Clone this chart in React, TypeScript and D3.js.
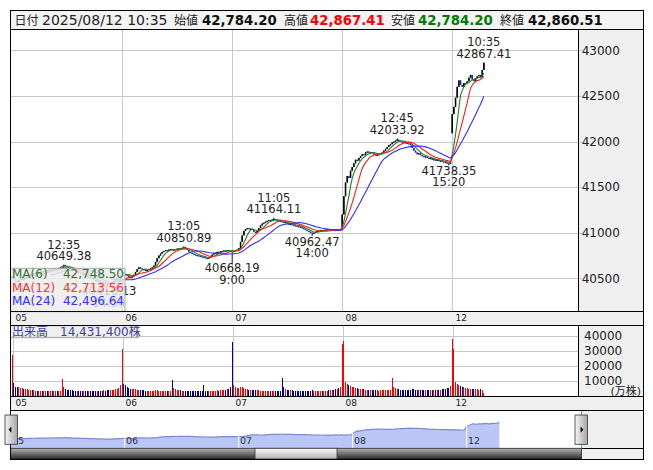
import React from 'react';
import * as d3 from 'd3';

// ---------- data ----------
const DAYS = ['05', '06', '07', '08', '12'];
const DAY_OPEN = [40500, 40560, 40800, 41050, 42090];

const CLOSE_05 = [
  40520, 40490, 40470, 40460, 40480, 40500, 40510, 40495, 40505, 40520,
  40530, 40545, 40540, 40555, 40560, 40550, 40565, 40575, 40570, 40580,
  40590, 40585, 40595, 40600, 40590, 40605, 40610, 40600, 40615, 40620,
  40630, 40645, 40635, 40620, 40610, 40600, 40595, 40585, 40570, 40575,
  40560, 40550, 40540, 40545, 40530, 40515, 40520, 40505, 40490, 40480,
  40470, 40475, 40460, 40450, 40440, 40445, 40432, 40428, 40424, 40440,
  40455, 40470, 40490, 40505, 40520, 40535,
];
const CLOSE_06 = [
  40570, 40550, 40540, 40530, 40515, 40505, 40520, 40540, 40570, 40600,
  40620, 40610, 40600, 40595, 40580, 40590, 40600, 40610, 40620, 40640,
  40680, 40720, 40750, 40770, 40790, 40800, 40810, 40805, 40815, 40820,
  40810, 40815, 40820, 40825, 40830, 40828, 40835, 40840, 40830, 40810,
  40790, 40780, 40770, 40760, 40755, 40750, 40745, 40740, 40735, 40730,
  40722, 40718, 40728, 40745, 40760, 40775, 40780, 40790, 40785, 40795,
  40800, 40805, 40800, 40810, 40805, 40800,
];
const CLOSE_07 = [
  40790, 40800, 40810, 40815, 40830, 40900, 40970, 41020, 41040, 41050,
  41040, 41045, 41030, 41010, 41000, 41020, 41050, 41080, 41100, 41110,
  41120, 41130, 41140, 41135, 41145, 41150, 41140, 41135, 41130, 41125,
  41120, 41110, 41115, 41100, 41090, 41095, 41085, 41080, 41075, 41070,
  41065, 41060, 41050, 41040, 41030, 41020, 41010, 41000, 40990, 41000,
  41010, 41020, 41025, 41030, 41020, 41030, 41035, 41040, 41030, 41035,
  41040, 41030, 41025, 41035, 41030, 41040,
];
const CLOSE_08 = [
  41200, 41400, 41550, 41620, 41600, 41680, 41720, 41760, 41800, 41790,
  41820, 41840, 41860, 41850, 41880, 41890, 41880, 41885, 41870, 41860,
  41850, 41855, 41860, 41870, 41880, 41900, 41920, 41940, 41960, 41970,
  41990, 42000, 42010, 42020, 42010, 42000, 41995, 41990, 41985, 41980,
  41975, 41960, 41930, 41900, 41880, 41860, 41870, 41850, 41840, 41830,
  41835, 41820, 41810, 41820, 41800, 41805, 41790, 41800, 41785, 41790,
  41780, 41775, 41770, 41760, 41755, 41780,
];
const CLOSE_12 = [
  42300, 42380, 42480, 42600, 42670, 42620, 42600, 42640, 42640, 42660,
  42700, 42730, 42680, 42662, 42695, 42715, 42730, 42706, 42784.2, 42860.51,
];

// volume in 万株
const VOL_05 = [
  27500, 8200, 5600, 5400, 5500, 5200, 4800, 4600, 4300, 4100, 3800, 3700, 3500, 3400, 3300,
  3200, 3100, 3000, 3200, 2900, 3000, 2800, 2900, 3100, 2800, 2900, 3000, 2800, 3000, 3300,
  11200, 5900, 4500, 4000, 3800, 3600, 3400, 3300, 3200, 3100, 3000, 3200, 2900, 3100, 2800,
  3000, 2900, 3100, 3000, 3200, 2900, 3000, 3100, 3300, 3200, 3400, 3300, 3500, 3600, 3400,
  3700, 3900, 4100, 4300, 4800, 6800,
];
const VOL_06 = [
  31000, 7600, 6800, 5600, 5000, 4700, 4400, 4100, 4200, 3900, 3700, 3600, 3500, 3400, 3300,
  3200, 3300, 3100, 3000, 3100, 3400, 3600, 3200, 3000, 2900, 3000, 2800, 2900, 3000, 3200,
  10500, 5200, 4200, 3900, 3600, 3500, 3300, 3200, 3100, 3000, 3200, 2900, 3000, 2800, 3000,
  2900, 3100, 3000, 3200, 7000, 3300, 3000, 3100, 3200, 3000, 3300, 3100, 3400, 3300, 3500,
  3600, 3800, 4000, 4400, 4700, 5600,
];
const VOL_07 = [
  36000, 7200, 6000, 5200, 4800, 5600, 5400, 4800, 4500, 4300, 4000, 3800, 3900, 3700, 3600,
  3400, 3500, 3300, 3200, 3300, 3100, 3000, 3200, 3000, 2900, 3300, 3100, 3000, 2900, 3100,
  12000, 5500, 4400, 4000, 3800, 3600, 3400, 3300, 3200, 3000, 3100, 2900, 3000, 3200, 3300,
  3100, 3000, 2900, 3400, 3200, 3000, 3100, 2900, 3000, 3200, 3100, 3300, 3200, 3400, 3500,
  3700, 3900, 4200, 4500, 4900, 5800,
];
const VOL_08 = [
  34500, 36800, 8800, 7500, 6800, 6200, 5800, 5500, 5200, 4800, 4600, 4400, 4500, 4200, 4000,
  3900, 3800, 3700, 3600, 3500, 3600, 3400, 3300, 3500, 3600, 3700, 3800, 3600, 3500, 3700,
  11500, 5800, 4800, 4500, 4200, 4000, 3900, 3800, 3700, 3600, 3800, 4000, 4200, 4100, 3900,
  3800, 3700, 3600, 3700, 3500, 3600, 3400, 3500, 3600, 3400, 3500, 3700, 3600, 3800, 3900,
  4100, 4300, 4500, 4800, 5200, 6500,
];
const VOL_12 = [
  37800, 31500, 9200, 8000, 7000, 6400, 5800, 5500, 5200, 5000, 4700, 4500, 4300, 4200, 4400,
  4100, 4000, 4200, 3800, 1443,
];

const EXTREMES = [
  { day: 0, idx: 31, kind: 'high', value: 40649.38 },
  { day: 0, idx: 58, kind: 'low', value: 40418.13 },
  { day: 1, idx: 37, kind: 'high', value: 40850.89 },
  { day: 2, idx: 0, kind: 'low', value: 40668.19 },
  { day: 2, idx: 25, kind: 'high', value: 41164.11 },
  { day: 2, idx: 48, kind: 'low', value: 40962.47 },
  { day: 3, idx: 33, kind: 'high', value: 42033.92 },
  { day: 3, idx: 64, kind: 'low', value: 41738.35 },
  { day: 4, idx: 19, kind: 'high', value: 42867.41 },
];

const PRICE_TICKS = [40500, 41000, 41500, 42000, 42500, 43000];
const VOL_TICKS = [10000, 20000, 30000, 40000];
const MA_PERIODS = [6, 12, 24];
const MA_NAMES = ['MA(6)', 'MA(12)', 'MA(24)'];
const MA_LAST = ['42,748.50', '42,713.56', '42,496.64'];
const MA_COLORS = ['#1a861a', '#ff1a1a', '#2d2dff'];
const MA_TEXT_COLORS = ['#2f6f2f', '#ff3030', '#3030ff'];

const HEADER_LABELS = ['日付', '始値', '高値', '安値', '終値'];
const HEADER_VALUES = ['2025/08/12 10:35', '42,784.20', '42,867.41', '42,784.20', '42,860.51'];
const HEADER_VALUE_COLORS = ['#222', '#111', '#ff0000', '#007a00', '#111'];
const VOLUME_TITLE = '出来高　14,431,400株';
const VOLUME_UNIT = '(万株)';

// ---------- layout constants ----------
const FONT = "'DejaVu Sans', Verdana, 'Noto Sans CJK JP', sans-serif";
const L = 10.5, R = 643, PR = 578.5;
const TOP = 10.5, HB = 29.3, MB = 311.7, S1 = 325.7, VB = 396.7, S2 = 410.7, NB = 448.3, BOT = 459;
const NAV_R = 581.6;
const PER_DAY = 66;

function barTime(idx: number) {
  const mins = idx < 30 ? 9 * 60 + idx * 5 : 12 * 60 + 30 + (idx - 30) * 5;
  const h = Math.floor(mins / 60);
  const m = mins % 60;
  return `${h}:${m < 10 ? '0' : ''}${m}`;
}

export default function App() {
  const closesByDay = [CLOSE_05, CLOSE_06, CLOSE_07, CLOSE_08, CLOSE_12];
  const volsByDay = [VOL_05, VOL_06, VOL_07, VOL_08, VOL_12];

  const bars: { i: number; o: number; h: number; l: number; c: number; v: number }[] = [];
  closesByDay.forEach((arr, d) =>
    arr.forEach((c, k) => {
      const o = k === 0 ? DAY_OPEN[d] : arr[k - 1];
      let h = Math.max(o, c);
      let l = Math.min(o, c);
      const ex = EXTREMES.find((e) => e.day === d && e.idx === k);
      if (ex) {
        if (ex.kind === 'high') h = ex.value;
        else l = ex.value;
      }
      bars.push({ i: d * PER_DAY + k, o, h, l, c, v: volsByDay[d][k] });
    })
  );

  const x = d3.scaleLinear().domain([0, PER_DAY]).range([12.2, 122.2]);
  const y = d3.scaleLinear().domain([40500, 43000]).range([278.3, 50.3]);
  const vy = d3.scaleLinear().domain([0, 40000]).range([395.5, 336]);
  const nx = d3.scaleLinear().domain([0, PER_DAY]).range([10.5, 124.5]);
  const ny = d3.scaleLinear().domain([40300, 43000]).range([440, 421.5]);

  const closes = bars.map((b) => b.c);
  const maLines = MA_PERIODS.map((n) =>
    closes.map((_, k) => (k < n - 1 ? null : (d3.mean(closes.slice(k - n + 1, k + 1)) as number)))
  );
  const maPath = d3
    .line<number | null>()
    .defined((v) => v != null)
    .x((_, k) => x(k))
    .y((v) => y(v as number));

  const navArea = d3
    .area<number>()
    .x((_, k) => nx(k))
    .y0(NB)
    .y1((v) => ny(v));
  const navLine = d3
    .line<number>()
    .x((_, k) => nx(k))
    .y((v) => ny(v));

  const dayGridX = DAYS.map((_, d) => Math.round(x(d * PER_DAY) - 0.5) + 0.5);
  const headerLabelX = [14.6, 174, 284, 391, 500];
  const headerValueX = [42, 202, 310, 418, 528];

  return (
    <svg
      width={653}
      height={470}
      style={{ position: 'absolute', left: 0, top: 0, display: 'block', background: '#fff' }}
      fontFamily={FONT}
    >
      <defs>
        <clipPath id="mainClip">
          <rect x={L} y={HB} width={PR - L} height={MB - HB} />
        </clipPath>
        <clipPath id="volClip">
          <rect x={L} y={S1} width={PR - L} height={VB - S1} />
        </clipPath>
        <linearGradient id="track" x1="0" y1="0" x2="0" y2="1">
          <stop offset="0" stopColor="#b4b4b4" />
          <stop offset="1" stopColor="#2c2c2c" />
        </linearGradient>
        <linearGradient id="thumb" x1="0" y1="0" x2="0" y2="1">
          <stop offset="0" stopColor="#fbfbfb" />
          <stop offset="1" stopColor="#b0b0b0" />
        </linearGradient>
        <linearGradient id="btn" x1="0" y1="0" x2="1" y2="0">
          <stop offset="0" stopColor="#f6f6f6" />
          <stop offset="1" stopColor="#a4a4a4" />
        </linearGradient>
      </defs>

      {/* backgrounds */}
      <rect x={L} y={TOP} width={R - L} height={BOT - TOP} fill="#efefef" />
      <rect x={L} y={TOP} width={R - L} height={HB - TOP} fill="#f3f3f3" />
      <rect x={L} y={HB} width={PR - L} height={MB - HB} fill="#fff" />
      <rect x={L} y={S1} width={PR - L} height={VB - S1} fill="#fff" />
      <rect x={L} y={S2} width={NAV_R - L} height={NB - S2} fill="#fff" />

      {/* header */}
      <g fontSize={14} fill="#222">
        {HEADER_LABELS.map((t, k) => (
          <text key={'hl' + k} x={headerLabelX[k]} y={24.5} fontSize={12}>
            {t}
          </text>
        ))}
        {HEADER_VALUES.map((t, k) => (
          <text
            key={'hv' + k}
            x={headerValueX[k]}
            y={24.5}
            fontSize={k === 0 ? 14 : 13.3}
            fontWeight={k === 0 ? 'normal' : 'bold'}
            fill={HEADER_VALUE_COLORS[k]}
          >
            {t}
          </text>
        ))}
      </g>

      {/* gridlines */}
      <g stroke="#c8c8c8" strokeWidth={1} shapeRendering="crispEdges">
        {PRICE_TICKS.map((p) => (
          <line key={'pg' + p} x1={L} x2={PR + 3} y1={Math.round(y(p)) + 0.5} y2={Math.round(y(p)) + 0.5} />
        ))}
        {dayGridX.slice(1).map((gx, k) => (
          <line key={'dg' + k} x1={gx} x2={gx} y1={HB} y2={MB} />
        ))}
        {VOL_TICKS.map((v) => (
          <line key={'vg' + v} x1={L} x2={PR} y1={Math.round(vy(v)) + 0.5} y2={Math.round(vy(v)) + 0.5} />
        ))}
        {dayGridX.map((gx, k) => (
          <line key={'vdg' + k} x1={gx + 1} x2={gx + 1} y1={S1} y2={VB} />
        ))}
      </g>

      {/* candles */}
      <g clipPath="url(#mainClip)">
        {bars.map((b) => {
          const cx = x(b.i);
          const up = b.c >= b.o;
          const col = up ? '#000' : '#1c1cb0';
          const top = y(Math.max(b.o, b.c));
          const bot = y(Math.min(b.o, b.c));
          return (
            <g key={'c' + b.i}>
              <line x1={cx} x2={cx} y1={y(b.h)} y2={y(b.l)} stroke={col} strokeWidth={1} />
              <rect x={cx - 0.75} y={top} width={1.5} height={Math.max(1.2, bot - top)} fill={col} />
            </g>
          );
        })}
        {maLines.map((vals, k) => (
          <path key={'ma' + k} d={maPath(vals) || ''} fill="none" stroke={MA_COLORS[k]} strokeWidth={1.1} />
        ))}
      </g>

      {/* extreme annotations */}
      <g fontSize={11.5} fill="#222" textAnchor="middle">
        {EXTREMES.map((e, k) => {
          const cx = x(e.day * PER_DAY + e.idx);
          const py = y(e.value);
          const price = e.value.toFixed(2);
          const time = barTime(e.idx);
          return e.kind === 'high' ? (
            <g key={'ex' + k}>
              <text x={cx} y={py - 16}>{time}</text>
              <text x={cx} y={py - 4.3}>{price}</text>
            </g>
          ) : (
            <g key={'ex' + k}>
              <text x={cx} y={py + 9.5}>{price}</text>
              <text x={cx} y={py + 21}>{time}</text>
            </g>
          );
        })}
      </g>

      {/* MA legend (semi-transparent, over the chart as in the reference) */}
      <rect x={L} y={268.3} width={114.5} height={MB - 268.3} fill="rgba(236,236,236,0.84)" stroke="#a8a8a8" />
      <g fontSize={12}>
        {MA_NAMES.map((n, k) => (
          <g key={'lg' + k} fill={MA_TEXT_COLORS[k]}>
            <text x={12} y={278.3 + k * 13.4}>{n}</text>
            <text x={124} y={278.3 + k * 13.4} textAnchor="end">{MA_LAST[k]}</text>
          </g>
        ))}
      </g>

      {/* price axis labels */}
      <g fontSize={12} fill="#222">
        {PRICE_TICKS.map((p) => (
          <text key={'pl' + p} x={581.7} y={y(p) + 4.2}>{p}</text>
        ))}
      </g>

      {/* day labels strip 1 & 2 */}
      <g fontSize={9} fill="#222">
        {DAYS.map((d, k) => (
          <text key={'dl1' + d} x={dayGridX[k] + 3} y={320.8}>{d}</text>
        ))}
        {DAYS.map((d, k) => (
          <text key={'dl2' + d} x={dayGridX[k] + 3} y={405.8}>{d}</text>
        ))}
      </g>

      {/* volume */}
      <g clipPath="url(#volClip)" shapeRendering="crispEdges">
        {bars.map((b) => (
          <rect
            key={'v' + b.i}
            x={x(b.i) - 0.5}
            y={vy(b.v)}
            width={1}
            height={VB - vy(b.v)}
            fill={b.c >= b.o ? '#ff0000' : '#000099'}
          />
        ))}
      </g>
      <rect x={L} y={S1} width={127.5} height={12} fill="rgba(236,236,236,0.85)" stroke="#a0a0a0" />
      <text x={12} y={335.5} fontSize={12} fill="#3e3ea6">{VOLUME_TITLE}</text>
      <g fontSize={12} fill="#222">
        {VOL_TICKS.map((v) => (
          <text key={'vl' + v} x={584} y={vy(v) + 4.2}>{v}</text>
        ))}
        <text x={641} y={395} textAnchor="end" fontSize={11}>{VOLUME_UNIT}</text>
      </g>

      {/* navigator */}
      <path d={navArea(closes) || ''} fill="#b9c6f6" />
      <path d={navLine(closes) || ''} fill="none" stroke="#7f89cf" strokeWidth={1.2} />
      <g stroke="#ffffff" strokeWidth={1}>
        {DAYS.slice(1).map((_, k) => {
          const gx = nx((k + 1) * PER_DAY) + 0.2;
          return <line key={'nd' + k} x1={gx} x2={gx} y1={ny(43000)} y2={NB} />;
        })}
      </g>
      <g fontSize={9.5} fill="#333">
        {DAYS.map((d, k) => (
          <text key={'nl' + d} x={nx(k * PER_DAY) + 1.5} y={443.5}>{d}</text>
        ))}
      </g>
      <g stroke="#16b4e0" strokeWidth={1}>
        <line x1={L} x2={L} y1={S2} y2={NB} />
        <line x1={NAV_R} x2={NAV_R} y1={S2} y2={NB} />
      </g>

      {/* scrollbar */}
      <rect x={L} y={NB} width={NAV_R - L} height={BOT - NB} fill="url(#track)" stroke="#222" strokeWidth={0.8} />
      <rect x={255} y={NB} width={82} height={BOT - NB} fill="url(#thumb)" stroke="#333" strokeWidth={0.8} />

      {/* structure lines */}
      <g stroke="#000" strokeWidth={1} fill="none" shapeRendering="crispEdges">
        <rect x={L} y={TOP} width={R - L} height={BOT - TOP} />
        <line x1={L} x2={R} y1={HB} y2={HB} />
        <line x1={L} x2={R} y1={MB} y2={MB} />
        <line x1={L} x2={R} y1={S1} y2={S1} />
        <line x1={L} x2={R} y1={VB} y2={VB} />
        <line x1={L} x2={R} y1={S2} y2={S2} />
        <line x1={PR} x2={PR} y1={HB} y2={MB} />
        <line x1={PR} x2={PR} y1={S1} y2={VB} />
        <line x1={NAV_R} x2={R} y1={NB} y2={NB} />
      </g>

      {/* navigator buttons */}
      <rect x={5} y={415} width={12.5} height={29.3} fill="url(#btn)" stroke="#333" strokeWidth={0.8} />
      <path d="M8.6,429.6 L11.4,426.4 L11.4,432.8 Z" fill="#000" />
      <rect x={575} y={415} width={12.5} height={29.3} fill="url(#btn)" stroke="#333" strokeWidth={0.8} />
      <path d="M583.4,429.6 L580.6,426.4 L580.6,432.8 Z" fill="#000" />
    </svg>
  );
}
